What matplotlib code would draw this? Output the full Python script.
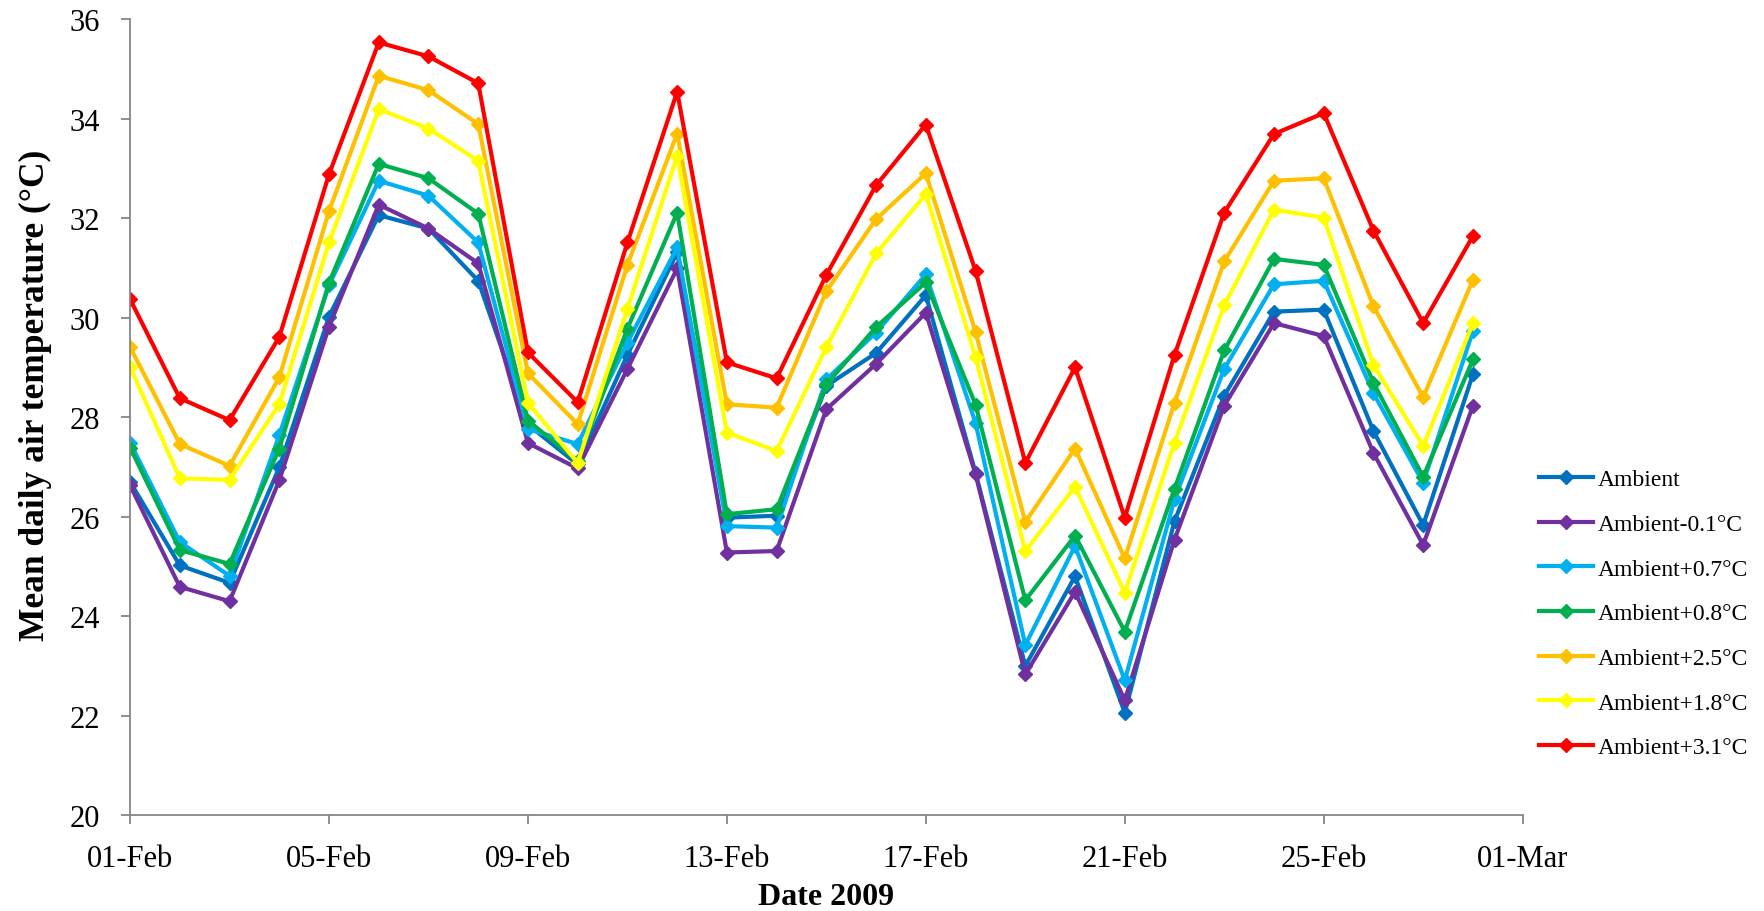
import pandas as pd
import matplotlib
matplotlib.use('Agg')
import matplotlib.pyplot as plt
import matplotlib.dates as mdates

plt.rcParams['font.family'] = ['Liberation Serif', 'DejaVu Serif']

dates = pd.date_range('2009-02-01', periods=28, freq='D')

ambient = [26.70, 25.02, 24.67, 26.99, 30.02, 32.06, 31.79, 30.74, 27.85, 27.05,
           29.25, 31.31, 25.98, 26.02, 28.63, 29.29, 30.45, 26.88, 23.00, 24.80,
           22.06, 25.91, 28.43, 30.12, 30.16, 27.72, 25.83, 28.86]
amb_m01 = [26.63, 24.59, 24.30, 26.73, 29.82, 32.27, 31.79, 31.09, 27.48, 26.97,
           28.97, 30.99, 25.28, 25.31, 28.16, 29.07, 30.10, 26.85, 22.83, 24.49,
           22.31, 25.54, 28.23, 29.89, 29.63, 27.28, 25.43, 28.23]
amb_p07 = [27.49, 25.49, 24.81, 27.64, 30.65, 32.75, 32.45, 31.51, 27.76, 27.46,
           29.50, 31.41, 25.81, 25.78, 28.76, 29.70, 30.87, 27.88, 23.42, 25.41,
           22.71, 26.35, 28.97, 30.67, 30.74, 28.48, 26.68, 29.73]
amb_p08 = [27.39, 25.33, 25.05, 27.37, 30.70, 33.09, 32.80, 32.09, 27.93, 27.12,
           29.78, 32.11, 26.05, 26.15, 28.66, 29.81, 30.71, 28.25, 24.32, 25.62,
           23.69, 26.56, 29.34, 31.18, 31.06, 28.69, 26.80, 29.16]
amb_p25 = [29.41, 27.46, 27.02, 28.80, 32.14, 34.86, 34.57, 33.89, 28.88, 27.86,
           31.06, 33.70, 28.26, 28.19, 30.53, 31.98, 32.90, 29.71, 25.89, 27.37,
           25.16, 28.29, 31.13, 32.75, 32.80, 30.23, 28.40, 30.76]
amb_p18 = [29.01, 26.77, 26.74, 28.26, 31.51, 34.19, 33.80, 33.15, 28.29, 27.08,
           30.18, 33.25, 27.69, 27.32, 29.41, 31.29, 32.48, 29.20, 25.31, 26.60,
           24.47, 27.49, 30.25, 32.17, 32.01, 29.05, 27.42, 29.89]
amb_p31 = [30.37, 28.38, 27.94, 29.61, 32.88, 35.53, 35.25, 34.71, 29.30, 28.30,
           31.51, 34.54, 29.10, 28.78, 30.86, 32.66, 33.88, 30.94, 27.08, 29.00,
           25.98, 29.25, 32.11, 33.69, 34.11, 31.75, 29.89, 31.64]

series = [ambient, amb_m01, amb_p07, amb_p08, amb_p25, amb_p18, amb_p31]
labels = ['Ambient', 'Ambient-0.1\u00b0C', 'Ambient+0.7\u00b0C', 'Ambient+0.8\u00b0C',
          'Ambient+2.5\u00b0C', 'Ambient+1.8\u00b0C', 'Ambient+3.1\u00b0C']
colors = ['#0070C0', '#7030A0', '#00B0F0', '#00B050', '#FFC000', '#FFFF00', '#FF0000']

fig = plt.figure(figsize=(17.65, 9.12), dpi=100)
ax = fig.add_axes([0.0737, 0.105, 0.789, 0.873])

for vals, lab, col in zip(series, labels, colors):
    ax.plot(dates, vals, color=col, lw=3, marker='D', ms=7.5, label=lab)

ax.set_ylim(20, 36)
ax.set_yticks(range(20, 37, 2))
ax.set_xlim(pd.Timestamp('2009-02-01'), pd.Timestamp('2009-03-01'))
ax.set_xticks(pd.date_range('2009-02-01', '2009-03-01', freq='4D'))
ax.xaxis.set_major_formatter(mdates.DateFormatter('%d-%b'))

for s in ['top', 'right']:
    ax.spines[s].set_visible(False)
for s in ['left', 'bottom']:
    ax.spines[s].set_color('#868686')
    ax.spines[s].set_linewidth(1.3)
ax.tick_params(axis='both', direction='out', length=6.5, width=1.3, color='#868686',
               labelsize=22)
ax.tick_params(axis='y', pad=15)
ax.tick_params(axis='x', pad=14)

ax.set_xlabel('Date 2009', fontsize=23, fontweight='bold', labelpad=7)
ax.set_ylabel('Mean daily air temperature (\u00b0C)', fontsize=25.5, fontweight='bold')
ax.yaxis.set_label_coords(-0.056, 0.529)

ax.legend(loc='upper left', bbox_to_anchor=(0.872, 0.485), bbox_transform=fig.transFigure,
          frameon=False, fontsize=17, borderpad=0, borderaxespad=0,
          handlelength=2.3, handletextpad=0.2, labelspacing=0.98)

fig.savefig('out.png', dpi=100)
